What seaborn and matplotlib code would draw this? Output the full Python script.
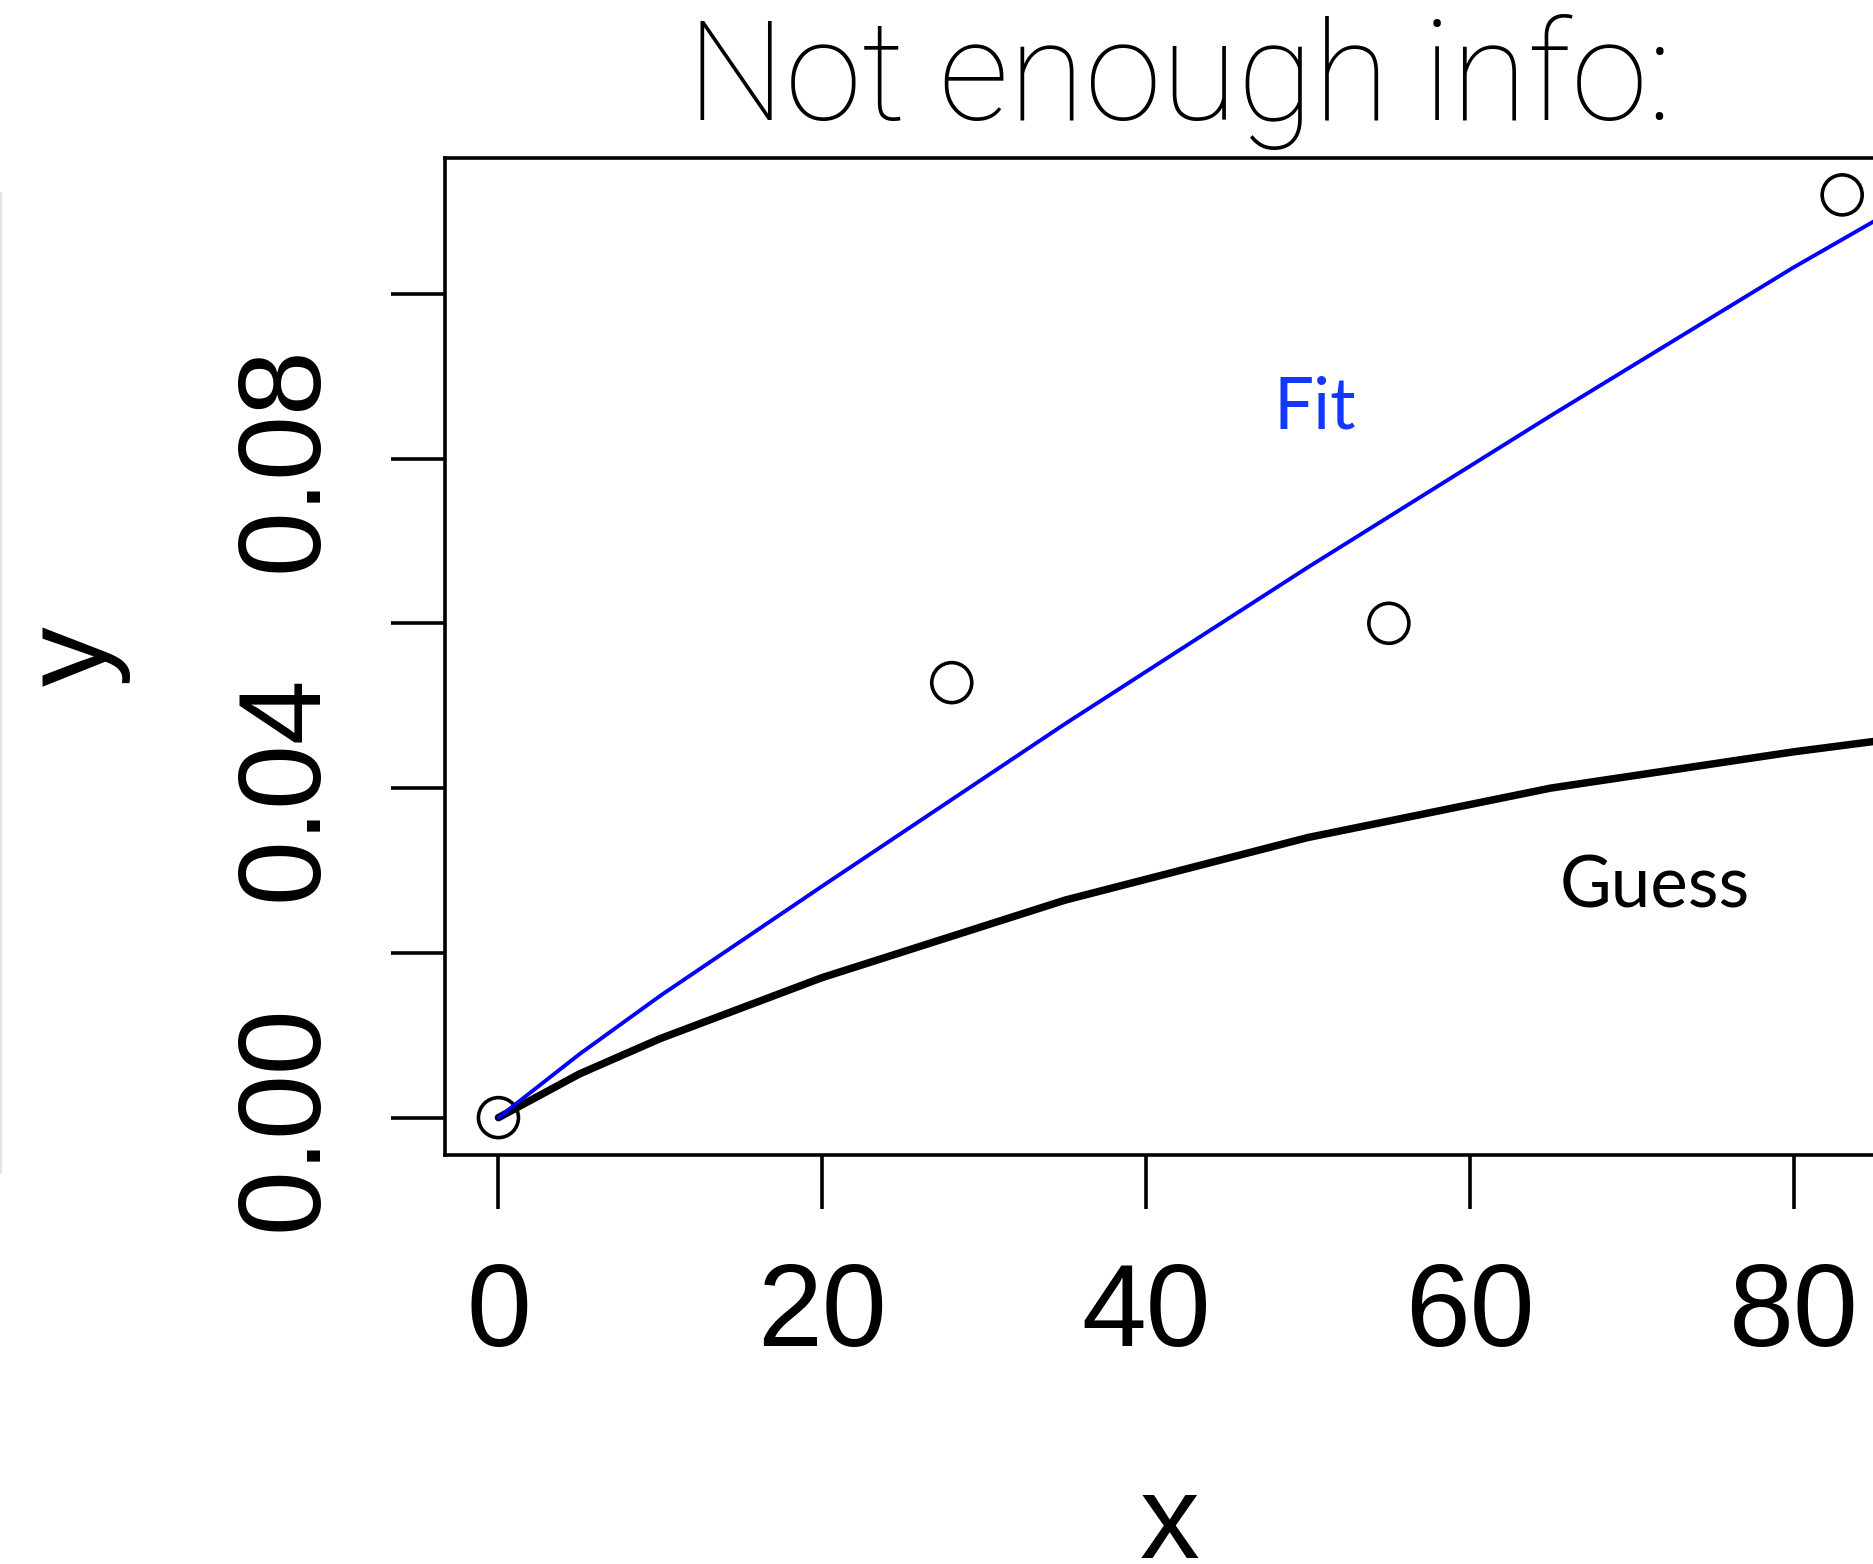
import numpy as np
import pandas as pd
import seaborn as sns
import matplotlib.pyplot as plt
from matplotlib.lines import Line2D

# observed points
pt_x = [0, 28, 55, 83]
pt_y = [0.0, 0.0528, 0.0600, 0.1120]

# curves
curve_x = [0, 5, 10, 20, 35, 50, 65, 80, 86.3]
fit_y = [0.0, 0.0077, 0.0148, 0.0281, 0.0478, 0.0668, 0.0852, 0.1032, 0.1103]
guess_y = [0.0, 0.0053, 0.0096, 0.0170, 0.0264, 0.0340, 0.0400, 0.0444, 0.0460]

x_ticks = [0, 20, 40, 60, 80]
y_ticks = [0.00, 0.02, 0.04, 0.06, 0.08, 0.10]
y_tick_labels = ["0.00", "", "0.04", "", "0.08", ""]

sns.set_style("ticks")
plt.rcParams['font.family'] = ['Liberation Sans', 'DejaVu Sans']
plt.rcParams['text.color'] = 'black'

fig = plt.figure(figsize=(18.74, 15.64), dpi=100)
ax = fig.add_axes([0.2373, 0.2618, 0.7744, 0.6373])

df = pd.DataFrame({"x": curve_x, "fit": fit_y, "guess": guess_y})
pts = pd.DataFrame({"x": pt_x, "y": pt_y})

sns.scatterplot(data=pts, x="x", y="y", ax=ax, s=830, marker="o",
                facecolor="none", edgecolor="black", linewidth=2.6, zorder=2)
sns.lineplot(data=df, x="x", y="guess", ax=ax, color="black", linewidth=5.4,
             estimator=None, solid_capstyle="round", solid_joinstyle="round",
             zorder=3)
sns.lineplot(data=df, x="x", y="fit", ax=ax, color="#0000ff", linewidth=2.8,
             estimator=None, solid_capstyle="round", solid_joinstyle="round",
             zorder=4)

ax.set_xlim(-3.32, 86.32)
ax.set_ylim(-0.00448, 0.1165)
ax.set_xticks(x_ticks)
ax.set_xticklabels([str(t) for t in x_ticks])
ax.set_yticks(y_ticks)
ax.set_yticklabels(y_tick_labels, rotation=90, va="center")
ax.set_xlabel("")
ax.set_ylabel("")

for s in ax.spines.values():
    s.set_linewidth(2.6)
    s.set_color("black")
    s.set_visible(True)

ax.tick_params(axis="both", direction="out", length=39, width=2.6,
               labelsize=84, colors="black")
ax.tick_params(axis="x", pad=38)
ax.tick_params(axis="y", pad=36)

# curve labels
ax.text(50.4, 0.0861, "Fit", color="#1238ff", fontsize=51,
        family=["Lato", "DejaVu Sans"], ha="center", va="center")
ax.text(71.4, 0.0280, "Guess", color="black", fontsize=51,
        family=["Lato", "DejaVu Sans"], ha="center", va="center")

# axis labels
fig.text(1170 / 1874, 1 - 1558 / 1564, "x", fontsize=86, color="black",
         ha="center", va="baseline")
fig.text(75 / 1874, 1 - 656 / 1564, "y", fontsize=86, rotation=90,
         color="black", ha="center", va="center", rotation_mode="anchor")

# title
fig.text(1180 / 1874, 1 - 119.5 / 1564, "Not enough info:", fontsize=100,
         family=["Roboto", "DejaVu Sans"], fontweight="light",
         ha="center", va="baseline")

# faint line at the left edge
fig.add_artist(Line2D([0.0006, 0.0006], [1 - 193 / 1564, 1 - 1173 / 1564],
                      transform=fig.transFigure, color="#e4e4e4", lw=1.5))

fig.savefig("out.png", dpi=100)
